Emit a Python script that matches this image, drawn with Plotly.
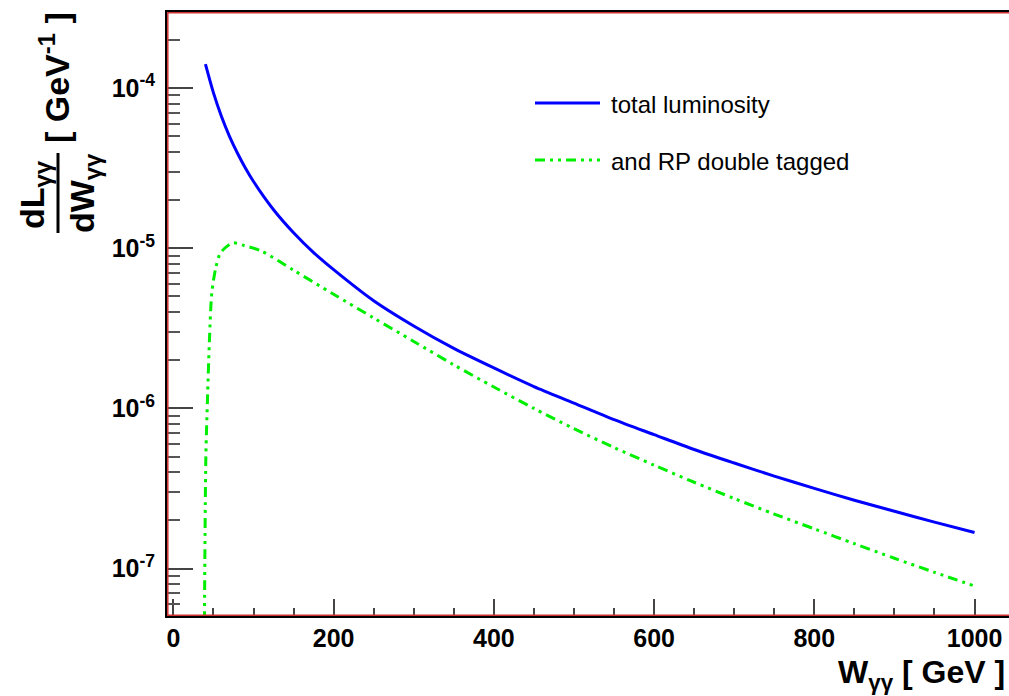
import plotly.graph_objects as go

# ---- data ----
w_total = [40, 50, 60, 70, 80, 90, 100, 125, 150, 175, 200, 250, 300, 350, 400,
           450, 500, 550, 600, 650, 700, 750, 800, 850, 900, 950, 1000]
lumi_total = [1.41e-4, 9.33e-5, 6.65e-5, 5.0e-5, 3.92e-5, 3.16e-5, 2.61e-5, 1.74e-5,
              1.25e-5, 9.4e-6, 7.35e-6, 4.70e-6, 3.27e-6, 2.37e-6, 1.79e-6,
              1.37e-6, 1.08e-6, 8.51e-7, 6.86e-7, 5.54e-7, 4.56e-7, 3.78e-7,
              3.17e-7, 2.67e-7, 2.28e-7, 1.95e-7, 1.68e-7]

w_tagged = [38.5, 40.5, 42.5, 45, 48, 53, 58, 64, 74, 88, 110, 150, 200, 250, 300,
            350, 400, 450, 500, 550, 600, 650, 700, 750, 800, 850, 900, 950, 1000]
lumi_tagged = [3.0e-8, 5.0e-7, 1.12e-6, 2.7e-6, 5.3e-6, 7.6e-6, 9.2e-6, 1.0e-5,
               1.08e-5, 1.04e-5, 9.6e-6, 7.29e-6, 5.16e-6, 3.67e-6, 2.62e-6,
               1.87e-6, 1.36e-6, 1.0e-6, 7.48e-7, 5.70e-7, 4.42e-7, 3.46e-7,
               2.74e-7, 2.19e-7, 1.77e-7, 1.43e-7, 1.16e-7, 9.48e-8, 7.78e-8]

series_names = ["total luminosity", "and RP double tagged"]
x_tickvals = [0, 200, 400, 600, 800, 1000]
y_tickvals = [1e-7, 1e-6, 1e-5, 1e-4]
y_ticktext = ["10<sup>-7</sup>", "10<sup>-6</sup>", "10<sup>-5</sup>", "10<sup>-4</sup>"]

# ---- layout geometry (pixels) ----
W, H = 1009, 696
L, R, T, B = 167, 0, 12, 80
PW, PH = W - L - R, H - T - B


def px(xp):
    return (xp - L) / PW


def py(yp):
    return (T + PH - yp) / PH


FONT = "Liberation Sans, Arial, Helvetica, sans-serif"
GREEN_DASH = "10px,5px,3px,5px,3px,5px"

fig = go.Figure()
fig.add_trace(go.Scatter(x=w_total, y=lumi_total, mode="lines", name=series_names[0],
                         line=dict(color="#0000ff", width=3, shape="spline",
                                   smoothing=0.8)))
fig.add_trace(go.Scatter(x=w_tagged, y=lumi_tagged, mode="lines", name=series_names[1],
                         line=dict(color="#00ee00", width=3, dash=GREEN_DASH,
                                   shape="spline", smoothing=0.8)))

fig.update_layout(
    width=W, height=H,
    margin=dict(l=L, r=R, t=T, b=B, pad=0, autoexpand=False),
    plot_bgcolor="white", paper_bgcolor="white",
    showlegend=False,
    font=dict(family=FONT, color="black"),
)

fig.update_xaxes(
    range=[-8, 1043], showgrid=False, zeroline=False, automargin=False,
    showline=True, linecolor="black", linewidth=2, mirror=True,
    ticks="inside", ticklen=17, tickwidth=1.5, tickcolor="#444",
    tickmode="array", tickvals=x_tickvals,
    tickfont=dict(family=FONT, size=25, weight="bold", color="black"),
    minor=dict(ticks="inside", ticklen=8, tickwidth=1.5, tickcolor="#444", dtick=50),
    ticklabelstandoff=-1,
)
fig.update_yaxes(
    type="log", range=[-7.296, -3.525], showgrid=False, zeroline=False,
    automargin=False,
    showline=True, linecolor="black", linewidth=2, mirror=True,
    ticks="inside", ticklen=26, tickwidth=1.5, tickcolor="#444",
    tickmode="array", tickvals=y_tickvals, ticktext=y_ticktext,
    tickfont=dict(family=FONT, size=25, weight="bold", color="black"),
    minor=dict(ticks="inside", ticklen=13, tickwidth=1.5, tickcolor="#555", dtick="D1"),
    ticklabelstandoff=5,
)

shapes = [
    # red inner frame line (ROOT style)
    dict(type="rect", xref="paper", yref="paper", x0=px(L + 0.8), x1=px(W + 5),
         y0=py(T + PH - 0.8), y1=py(T + 0.8), line=dict(color="#d03030", width=1.5),
         layer="above"),
    # fraction bar of y-axis title
    dict(type="line", xref="paper", yref="paper", x0=px(58), x1=px(58),
         y0=py(233), y1=py(153), line=dict(color="black", width=3)),
    # legend keys
    dict(type="line", xref="paper", yref="paper", x0=px(535), x1=px(600),
         y0=py(103), y1=py(103), line=dict(color="#0000ff", width=3)),
    dict(type="line", xref="paper", yref="paper", x0=px(535), x1=px(600),
         y0=py(160), y1=py(160), line=dict(color="#00ee00", width=3, dash=GREEN_DASH)),
]
fig.update_layout(shapes=shapes)

TITLE = dict(family=FONT, size=34, weight="bold", color="black")
XTITLE = dict(family=FONT, size=32, weight="bold", color="black")
LEG = dict(family=FONT, size=24, color="black")
annotations = [
    dict(text="W<sub>γγ</sub> [ GeV ]", xref="paper", yref="paper",
         x=px(1007), y=py(674), xanchor="right", yanchor="middle",
         showarrow=False, font=XTITLE),
    dict(text="dL<sub>γγ</sub>", xref="paper", yref="paper", textangle=-90,
         x=px(34), y=py(195), xanchor="center", yanchor="middle",
         showarrow=False, font=TITLE),
    dict(text="dW<sub>γγ</sub>", xref="paper", yref="paper", textangle=-90,
         x=px(84), y=py(193), xanchor="center", yanchor="middle",
         showarrow=False, font=TITLE),
    dict(text="[ GeV<sup>-1</sup> ]", xref="paper", yref="paper",
         textangle=-90,
         x=px(54), y=py(78), xanchor="center", yanchor="middle",
         showarrow=False, font=TITLE),
    dict(text=series_names[0], xref="paper", yref="paper",
         x=px(609), y=py(104), xanchor="left", yanchor="middle",
         showarrow=False, font=LEG),
    dict(text=series_names[1], xref="paper", yref="paper",
         x=px(609), y=py(161), xanchor="left", yanchor="middle",
         showarrow=False, font=LEG),
]
fig.update_layout(annotations=annotations)

fig.write_html("out.html",
               config={"displayModeBar": False},
               post_script="document.body.style.margin='0px';"
                           "document.body.style.overflow='hidden';")
